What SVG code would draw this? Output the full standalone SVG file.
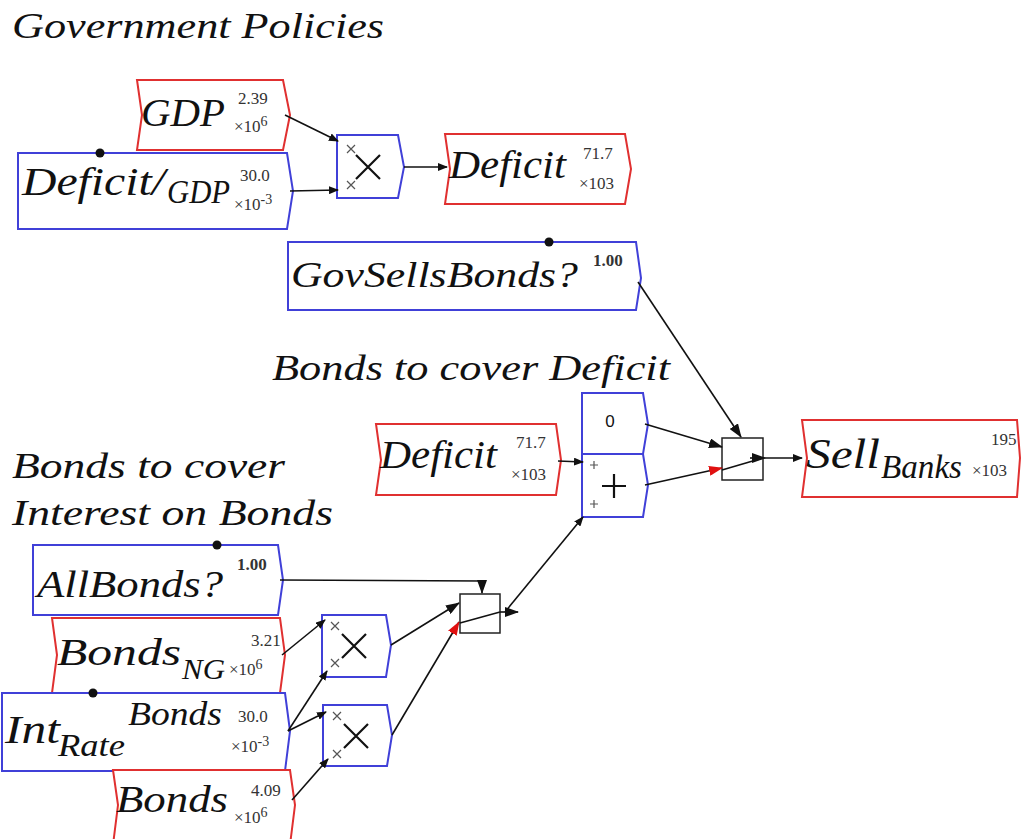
<svg xmlns="http://www.w3.org/2000/svg" width="1021" height="839" viewBox="0 0 1021 839">
<style>
.bg{fill:#fff}
.flow{fill:#fff;stroke:#e03030;stroke-width:2}
.var{fill:#fff;stroke:#4040d8;stroke-width:2}
.op{fill:#fff;stroke:#4040d8;stroke-width:2}
.sw{fill:none;stroke:#222;stroke-width:1.5}
.lbl{font-family:"Liberation Serif",serif;font-style:italic;fill:#111}
.val{font-family:"Liberation Serif",serif;font-size:17px;fill:#333}
.title{font-family:"Liberation Serif",serif;font-style:italic;font-size:36px;fill:#111}
.w{fill:none;stroke:#111;stroke-width:1.6}
.sym{stroke:#111;stroke-width:2.2}
.ssym{stroke:#555;stroke-width:1.2}
.dot{fill:#111}
.plain{font-family:"Liberation Sans",sans-serif;fill:#111}
</style>
<defs>
<marker id="a" markerWidth="10" markerHeight="8" refX="9" refY="4" orient="auto" markerUnits="userSpaceOnUse"><path d="M0,0 L10,4 L0,8 Z" fill="#111"/></marker>
<marker id="r" markerWidth="14" markerHeight="10" refX="13" refY="5" orient="auto" markerUnits="userSpaceOnUse"><path d="M0,0 L14,5 L0,10 Z" fill="#e01010"/></marker>
<marker id="b" markerWidth="14" markerHeight="10" refX="13" refY="5" orient="auto" markerUnits="userSpaceOnUse"><path d="M0,0 L14,5 L0,10 Z" fill="#111"/></marker>
</defs>
<rect class="bg" width="1021" height="839"/>
<text class="title" x="12" y="38" textLength="372" lengthAdjust="spacingAndGlyphs">Government Policies</text>
<text class="title" x="272" y="380" textLength="398" lengthAdjust="spacingAndGlyphs">Bonds to cover Deficit</text>
<text class="title" x="12" y="478" textLength="273" lengthAdjust="spacingAndGlyphs">Bonds to cover</text>
<text class="title" x="12" y="525" textLength="321" lengthAdjust="spacingAndGlyphs">Interest on Bonds</text>

<g id="GDP">
<polygon class="flow" points="137,80 283,80 290,115 283,150 137,150 142,115"/>
<text class="lbl" x="141" y="126" font-size="40" textLength="84" lengthAdjust="spacingAndGlyphs">GDP</text>
<text class="val" x="238" y="104">2.39</text>
<text class="val" x="234" y="132">×10<tspan dy="-6" font-size="14">6</tspan></text>
</g>

<g id="DeficitGDP">
<polygon class="var" points="18,153 287,153 293,191 287,229 18,229"/>
<circle class="dot" cx="100" cy="153" r="4.5"/>
<text class="lbl" x="22" y="195" font-size="40" textLength="143" lengthAdjust="spacingAndGlyphs">Deficit/</text>
<text class="lbl" x="167" y="203" font-size="34" textLength="63" lengthAdjust="spacingAndGlyphs">GDP</text>
<text class="val" x="240" y="181">30.0</text>
<text class="val" x="234" y="210">×10<tspan dy="-6" font-size="14">-3</tspan></text>
</g>

<g id="Mult1">
<polygon class="op" points="337,135 398,135 404,167 398,198 337,198"/>
<path class="sym" d="M356,155 L380,179 M380,155 L356,179"/>
<path class="ssym" d="M347,145 L355,153 M355,145 L347,153 M347,181 L355,189 M355,181 L347,189"/>
</g>

<g id="Deficit">
<polygon class="flow" points="445,134 625,134 631,169 625,204 445,204 450,169"/>
<text class="lbl" x="449" y="178" font-size="40" textLength="117" lengthAdjust="spacingAndGlyphs">Deficit</text>
<text class="val" x="583" y="159">71.7</text>
<text class="val" x="579" y="189">×103</text>
</g>

<g id="GovSellsBonds">
<polygon class="var" points="288,242 636,242 641,278 636,310 288,310"/>
<circle class="dot" cx="549" cy="242" r="4.5"/>
<text class="lbl" x="291" y="287" font-size="36" textLength="287" lengthAdjust="spacingAndGlyphs">GovSellsBonds?</text>
<text class="val" x="593" y="266" font-weight="bold" font-size="14">1.00</text>
</g>

<g id="Deficit2">
<polygon class="flow" points="376,424 556,424 561,460 556,495 376,495 381,460"/>
<text class="lbl" x="380" y="468" font-size="40" textLength="117" lengthAdjust="spacingAndGlyphs">Deficit</text>
<text class="val" x="516" y="448">71.7</text>
<text class="val" x="511" y="480">×103</text>
</g>

<g id="Zero">
<polygon class="op" points="582,393 643,393 648,424 643,454 582,454"/>
<text class="plain" x="610" y="427" font-size="17" text-anchor="middle">0</text>
</g>

<g id="Plus">
<polygon class="op" points="582,454 643,454 648,485 643,517 582,517"/>
<path class="sym" d="M614,474 L614,498 M602,486 L626,486"/>
<path class="ssym" d="M590,465 L598,465 M594,461 L594,469 M590,504 L598,504 M594,500 L594,508"/>
</g>

<g id="Switch1">
<rect class="sw" x="722" y="438" width="41" height="42"/>
</g>

<g id="SellBanks">
<polygon class="flow" points="802,420 1017,420 1020,458 1017,497 802,497 807,458"/>
<text class="lbl" x="806" y="468" font-size="42" textLength="74" lengthAdjust="spacingAndGlyphs">Sell</text>
<text class="lbl" x="881" y="478" font-size="34" textLength="81" lengthAdjust="spacingAndGlyphs">Banks</text>
<text class="val" x="991" y="445">195</text>
<text class="val" x="972" y="476">×103</text>
</g>

<g id="AllBonds">
<polygon class="var" points="33,545 278,545 283,580 278,615 33,615"/>
<circle class="dot" cx="217" cy="545" r="4.5"/>
<text class="lbl" x="37" y="597" font-size="38" textLength="186" lengthAdjust="spacingAndGlyphs">AllBonds?</text>
<text class="val" x="237" y="570" font-weight="bold" font-size="14">1.00</text>
</g>

<g id="Switch2">
<rect class="sw" x="460" y="594" width="40" height="39"/>
</g>

<g id="BondsNG">
<polygon class="flow" points="52,618 280,618 285,655 280,693 52,693 57,655"/>
<text class="lbl" x="57" y="665" font-size="38" textLength="124" lengthAdjust="spacingAndGlyphs">Bonds</text>
<text class="lbl" x="182" y="679" font-size="30" textLength="43" lengthAdjust="spacingAndGlyphs">NG</text>
<text class="val" x="251" y="646">3.21</text>
<text class="val" x="229" y="675">×10<tspan dy="-6" font-size="14">6</tspan></text>
</g>

<g id="Mult2">
<polygon class="op" points="322,615 386,615 391,645 386,677 322,677"/>
<path class="sym" d="M342,634 L366,658 M366,634 L342,658"/>
<path class="ssym" d="M331,622 L339,630 M339,622 L331,630 M331,659 L339,667 M339,659 L331,667"/>
</g>

<g id="IntRateBonds">
<polygon class="var" points="2,693 285,693 290,731 285,771 2,771"/>
<circle class="dot" cx="93" cy="693" r="4.5"/>
<text class="lbl" x="5" y="743" font-size="40" textLength="55" lengthAdjust="spacingAndGlyphs">Int</text>
<text class="lbl" x="58" y="756" font-size="32" textLength="67" lengthAdjust="spacingAndGlyphs">Rate</text>
<text class="lbl" x="128" y="725" font-size="34" textLength="94" lengthAdjust="spacingAndGlyphs">Bonds</text>
<text class="val" x="238" y="722">30.0</text>
<text class="val" x="231" y="752">×10<tspan dy="-6" font-size="14">-3</tspan></text>
</g>

<g id="Mult3">
<polygon class="op" points="323,705 387,705 392,735 387,766 323,766"/>
<path class="sym" d="M344,724 L368,748 M368,724 L344,748"/>
<path class="ssym" d="M333,712 L341,720 M341,712 L333,720 M333,750 L341,758 M341,750 L333,758"/>
</g>

<g id="Bonds">
<polygon class="flow" points="113,770 290,770 295,805 290,845 113,845 118,805"/>
<text class="lbl" x="116" y="812" font-size="38" textLength="112" lengthAdjust="spacingAndGlyphs">Bonds</text>
<text class="val" x="251" y="796">4.09</text>
<text class="val" x="234" y="823">×10<tspan dy="-6" font-size="14">6</tspan></text>
</g>

<g id="connectors">
<path class="w" d="M285,115 L338,141" marker-end="url(#a)"/>
<path class="w" d="M290,191 L338,190" marker-end="url(#a)"/>
<path class="w" d="M404,167 L447,167" marker-end="url(#a)"/>
<path class="w" d="M638,282 L741,437" marker-end="url(#b)"/>
<path class="w" d="M558,461 L583,462" marker-end="url(#a)"/>
<path class="w" d="M645,424 L722,447" marker-end="url(#b)"/>
<path class="w" d="M645,485 L722,468" marker-end="url(#r)"/>
<path class="w" d="M722,470 L763,458"/>
<path class="w" d="M750,458 L765,458" marker-end="url(#b)"/>
<path class="w" d="M765,458 L802,458" marker-end="url(#a)"/>
<path class="w" d="M280,580 L482,581 L482,593" marker-end="url(#b)"/>
<path class="w" d="M391,645 L459,603" marker-end="url(#b)"/>
<path class="w" d="M392,735 L459,622" marker-end="url(#r)"/>
<path class="w" d="M460,623 L500,612"/>
<path class="w" d="M500,612 L518,612" marker-end="url(#b)"/>
<path class="w" d="M505,612 L583,517" marker-end="url(#a)"/>
<path class="w" d="M282,655 L325,620" marker-end="url(#a)"/>
<path class="w" d="M288,731 L327,671" marker-end="url(#a)"/>
<path class="w" d="M288,731 L326,712" marker-end="url(#a)"/>
<path class="w" d="M292,800 L328,759" marker-end="url(#a)"/>
</g>
</svg>
